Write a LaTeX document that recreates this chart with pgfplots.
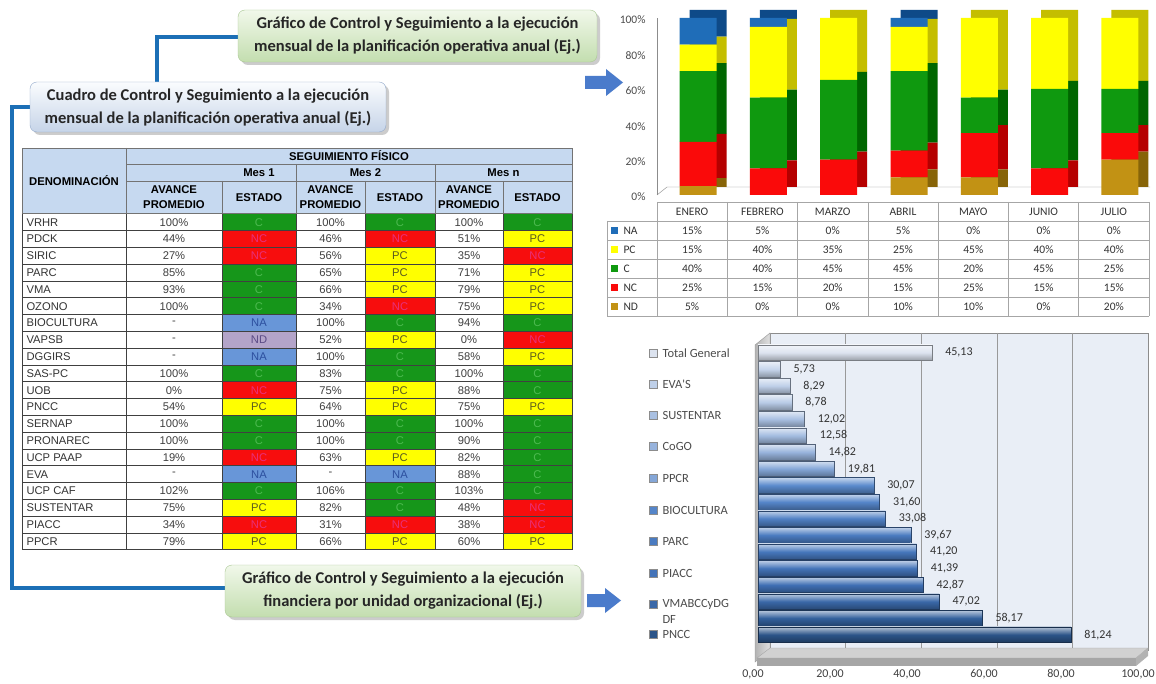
\documentclass[border=0pt]{standalone}
\usepackage{fontspec}
\setmainfont{Liberation Sans}
\newfontfamily\calib{Carlito}
\usepackage{pgfplots}
\pgfplotsset{compat=1.18}

\definecolor{hdr}{HTML}{C6D9F0}
\definecolor{stC}{HTML}{16961A}
\definecolor{stNC}{HTML}{F70D0D}
\definecolor{stPC}{HTML}{FFFF00}
\definecolor{stNA}{HTML}{6896D8}
\definecolor{stND}{HTML}{B4A4C9}
\definecolor{txC}{HTML}{4DBA50}
\definecolor{txNC}{HTML}{E8307A}
\definecolor{txPC}{HTML}{5A5A20}
\definecolor{txNA}{HTML}{2C4F9E}
\definecolor{txND}{HTML}{5B4B85}
\definecolor{conn}{HTML}{1C6FB6}
\definecolor{arrowc}{HTML}{4A7BCB}
\definecolor{grT}{HTML}{F1F8EA}
\definecolor{grB}{HTML}{C3DEAF}
\definecolor{grE}{HTML}{A9C793}
\definecolor{blT}{HTML}{FAFCFE}
\definecolor{blB}{HTML}{C6D4E8}
\definecolor{blE}{HTML}{93AACB}
% top chart
\definecolor{naF}{HTML}{1F6DB8}\definecolor{naD}{HTML}{0E4A88}
\definecolor{pcF}{HTML}{FFFF00}\definecolor{pcD}{HTML}{C4BE00}
\definecolor{cF}{HTML}{0F990F}\definecolor{cD}{HTML}{006600}
\definecolor{ncF}{HTML}{FA0A0A}\definecolor{ncD}{HTML}{B50000}
\definecolor{ndF}{HTML}{C29214}\definecolor{ndD}{HTML}{876408}
% bottom chart
\definecolor{b0}{HTML}{DCE3EF}
\definecolor{b1}{HTML}{C6D5EB}
\definecolor{b2}{HTML}{BFD0E9}
\definecolor{b3}{HTML}{B8CBE6}
\definecolor{b4}{HTML}{A9C0E2}
\definecolor{b5}{HTML}{A3BCE0}
\definecolor{b6}{HTML}{97B3DC}
\definecolor{b7}{HTML}{84A6D7}
\definecolor{b8}{HTML}{5A8ACC}
\definecolor{b9}{HTML}{5585C9}
\definecolor{b10}{HTML}{5080C4}
\definecolor{b11}{HTML}{4A7BC0}
\definecolor{b12}{HTML}{4677BC}
\definecolor{b13}{HTML}{4373B8}
\definecolor{b14}{HTML}{3F6FB3}
\definecolor{b15}{HTML}{3A68A8}
\definecolor{b16}{HTML}{33609C}
\definecolor{b17}{HTML}{2B5488}
\definecolor{wall}{HTML}{E9EEF6}

\newcommand{\callfont}{\calib\bfseries\fontsize{16.5}{23}\selectfont}
\newcommand{\tfont}{\fontsize{11.2}{12}\selectfont}
\newcommand{\hfont}{\bfseries\fontsize{11.3}{15}\selectfont}
\newcommand{\cfont}{\calib\fontsize{11.5}{12}\selectfont}

\pgfplotsset{
  tb/.style={fill=#1, draw=none, bar shift=6pt},
  bb/.style={draw=#1!55!black, line width=0.4pt, bar shift=0pt,
    top color=#1!35!white, bottom color=#1!70!black, middle color=#1},
}

\begin{document}
\begin{tikzpicture}
\useasboundingbox (0,0) rectangle (1156pt,683pt);
\fill[white] (0,0) rectangle (1156pt,683pt);
\begin{scope}[shift={(0pt,683pt)},x=1pt,y=-1pt]
 % connectors
 \draw[conn,line width=4pt] (157,84) -- (157,37) -- (242,37);
 \draw[conn,line width=4pt] (34,107) -- (12,107) -- (12,588) -- (229,588);
 % callout boxes
 \fill[black!20,rounded corners=7pt] (241,13) rectangle (600,65);
 \shade[top color=grT,bottom color=grB,draw=grE,rounded corners=7pt] (238,10) rectangle (597,62);
 \node[font=\callfont,align=center,text=black!85] at (417.5,36) {Gráfico de Control y Seguimiento a la ejecución\\mensual de la planificación operativa anual (Ej.)};
 \fill[black!20,rounded corners=7pt] (33,85) rectangle (389,135);
 \shade[top color=blT,bottom color=blB,draw=blE,rounded corners=7pt] (30,82) rectangle (386,132);
 \node[font=\callfont,align=center,text=black!85] at (208,108) {Cuadro de Control y Seguimiento a la ejecución\\mensual de la planificación operativa anual (Ej.)};
 \fill[black!20,rounded corners=7pt] (228,568) rectangle (584,620);
 \shade[top color=grT,bottom color=grB,draw=grE,rounded corners=7pt] (225,565) rectangle (581,617);
 \node[font=\callfont,align=center,text=black!85] at (403,591) {Gráfico de Control y Seguimiento a la ejecución\\financiera por unidad organizacional (Ej.)};
 % arrows
 \fill[arrowc] (585,76)--(606,76)--(606,69)--(623,82.5)--(606,96)--(606,89)--(585,89)--cycle;
 \fill[arrowc] (587,594)--(605,594)--(605,588)--(621,600.5)--(605,613)--(605,607)--(587,607)--cycle;

 % ---------- left table ----------
 \fill[hdr] (22,148) rectangle (572,213.6);
 \begin{scope}[black!55,line width=0.5pt]
  \draw (22,148) rectangle (572,213.6);
  \draw (126,164) -- (572,164);
  \draw (126,181) -- (572,181);
  \draw (126,148) -- (126,213.6);
  \foreach \xx in {296,435} \draw (\xx,164) -- (\xx,213.6);
  \foreach \xx in {222,365,503} \draw (\xx,181) -- (\xx,213.6);
 \end{scope}
 \node[font=\hfont] at (74,181) {DENOMINACIÓN};
 \node[font=\hfont] at (349,156) {SEGUIMIENTO FÍSICO};
 \node[font=\hfont] at (259,172.5) {Mes 1};
 \node[font=\hfont] at (365.5,172.5) {Mes 2};
 \node[font=\hfont] at (503.5,172.5) {Mes n};
 \foreach \xx in {174,330.5,469} \node[font=\hfont,align=center] at (\xx,197.3) {AVANCE\\PROMEDIO};
 \foreach \xx in {259,400,537.5} \node[font=\hfont] at (\xx,197.3) {ESTADO};
 \foreach \na/\ra/\ea/\rb/\eb/\rc/\ec [count=\i from 0] in {
   VRHR/100\%/C/100\%/C/100\%/C,
   PDCK/44\%/NC/46\%/NC/51\%/PC,
   SIRIC/27\%/NC/56\%/PC/35\%/NC,
   PARC/85\%/C/65\%/PC/71\%/PC,
   VMA/93\%/C/66\%/PC/79\%/PC,
   OZONO/100\%/C/34\%/NC/75\%/PC,
   BIOCULTURA/-/NA/100\%/C/94\%/C,
   VAPSB/-/ND/52\%/PC/0\%/NC,
   DGGIRS/-/NA/100\%/C/58\%/PC,
   SAS-PC/100\%/C/83\%/C/100\%/C,
   UOB/0\%/NC/75\%/PC/88\%/C,
   PNCC/54\%/PC/64\%/PC/75\%/PC,
   SERNAP/100\%/C/100\%/C/100\%/C,
   PRONAREC/100\%/C/100\%/C/90\%/C,
   UCP PAAP/19\%/NC/63\%/PC/82\%/C,
   EVA/-/NA/-/NA/88\%/C,
   UCP CAF/102\%/C/106\%/C/103\%/C,
   SUSTENTAR/75\%/PC/82\%/C/48\%/NC,
   PIACC/34\%/NC/31\%/NC/38\%/NC,
   PPCR/79\%/PC/66\%/PC/60\%/PC}{
   \pgfmathsetmacro\yt{213.6+16.8*\i}
   \pgfmathsetmacro\yb{\yt+16.8}
   \pgfmathsetmacro\yc{\yt+8.6}
   \fill[st\ea] (222,\yt) rectangle (296,\yb);
   \fill[st\eb] (365,\yt) rectangle (435,\yb);
   \fill[st\ec] (503,\yt) rectangle (572,\yb);
   \node[font=\tfont,anchor=west,text=black!80] at (23,\yc) {\na};
   \node[font=\tfont,text=black!75] at (174,\yc) {\ra};
   \node[font=\tfont,text=black!75] at (330.5,\yc) {\rb};
   \node[font=\tfont,text=black!75] at (469,\yc) {\rc};
   \node[font=\tfont,text=tx\ea] at (259,\yc) {\ea};
   \node[font=\tfont,text=tx\eb] at (400,\yc) {\eb};
   \node[font=\tfont,text=tx\ec] at (537.5,\yc) {\ec};
 }
 \begin{scope}[black!75,line width=0.5pt]
  \foreach \k in {1,...,20} \draw (22,{213.6+16.8*\k}) -- (572,{213.6+16.8*\k});
  \foreach \xx in {22,126,222,296,365,435,503,572} \draw (\xx,213.6) -- (\xx,549.6);
 \end{scope}

 % ---------- top chart data table ----------
 \draw[black!45,line width=0.4pt] (657,195) -- (667,187) -- (1150,187);
 \begin{scope}[black!35,line width=0.5pt]
  \draw (657,202) -- (1149,202);
  \foreach \yy in {221,240,259,278,297,316} \draw (607,\yy) -- (1149,\yy);
  \draw (607,221) -- (607,316);
  \foreach \k in {0,...,7} \draw ({657+70.286*\k},202) -- ({657+70.286*\k},316);
 \end{scope}
 \foreach \m [count=\k from 0] in {ENERO,FEBRERO,MARZO,ABRIL,MAYO,JUNIO,JULIO}
   \node[font=\cfont,text=black!80] at ({657+70.286*(\k+0.5)},211.5) {\m};
 \foreach \lab/\cc/\vals [count=\r from 0] in {
   NA/naF/{15,5,0,5,0,0,0},
   PC/pcF/{15,40,35,25,45,40,40},
   C/cF/{40,40,45,45,20,45,25},
   NC/ncF/{25,15,20,15,25,15,15},
   ND/ndF/{5,0,0,10,10,0,20}}{
   \pgfmathsetmacro\yc{230.5+19*\r}
   \fill[\cc] (611,\yc-3.5) rectangle (618,\yc+3.5);
   \node[font=\cfont,anchor=west,text=black!80] at (620,\yc) {\lab};
   \foreach \v [count=\k from 0] in \vals
     \node[font=\cfont,text=black!80] at ({657+70.286*(\k+0.5)},\yc) {\v\%};
 }

 % ---------- bottom chart walls ----------
 \fill[wall] (770,333) rectangle (1148,650);
 \draw[black!45,line width=0.5pt] (770,333) rectangle (1148,650);
 \foreach \xx in {845.6,921.2,996.8,1072.4} \draw[black!40,line width=0.5pt] (\xx,333) -- (\xx,650);
 \shade[left color=black!30,right color=black!12,draw=black!40] (755,345) -- (770,333) -- (770,650) -- (755,662) -- cycle;
 \fill[black!18,draw=black!35] (770,648) -- (1148,648) -- (1136,658) -- (757,658) -- cycle;
 \fill[black!35] (757,658) rectangle (1136,666);
 \fill[black!30] (1136,658) -- (1148,648) -- (1148,656) -- (1136,666) -- cycle;
 % legend of bottom chart
 \foreach \yy/\lab/\cc in {353/Total General/b0, 384/EVA'S/b2, 415/SUSTENTAR/b4,
   446/CoGO/b6, 478/PPCR/b7, 510/BIOCULTURA/b9, 541/PARC/b11, 573/PIACC/b13,
   604/VMABCCyDG/b15, 634/PNCC/b17}{
   \filldraw[fill=\cc,draw=black!45,line width=0.4pt] (649,\yy-4) rectangle (657,\yy+4);
   \node[font=\calib\fontsize{12.5}{13}\selectfont,anchor=west,text=black!70] at (659,\yy) {\lab};
 }
 \node[font=\calib\fontsize{12.5}{13}\selectfont,anchor=west,text=black!70] at (659,619) {DF};
\end{scope}

% ---------- top chart (depth copy) ----------
\begin{axis}[at={(667pt,496pt)}, anchor=south west, scale only axis,
  width=492pt, height=177pt, xmin=-0.5, xmax=6.5, ymin=0, ymax=100,
  ybar stacked, bar width=37pt, hide axis]
\addplot[tb=ndD] coordinates {(0,5)(1,0)(2,0)(3,10)(4,10)(5,0)(6,20)};
\addplot[tb=ncD] coordinates {(0,25)(1,15)(2,20)(3,15)(4,25)(5,15)(6,15)};
\addplot[tb=cD] coordinates {(0,40)(1,40)(2,45)(3,45)(4,20)(5,45)(6,25)};
\addplot[tb=pcD] coordinates {(0,15)(1,40)(2,35)(3,25)(4,45)(5,40)(6,40)};
\addplot[tb=naD] coordinates {(0,15)(1,5)(2,0)(3,5)(4,0)(5,0)(6,0)};
\end{axis}
% ---------- top chart (front) ----------
\begin{axis}[at={(657pt,488pt)}, anchor=south west, scale only axis,
  width=492pt, height=177pt, xmin=-0.5, xmax=6.5, ymin=0, ymax=100,
  ybar stacked, bar width=37pt,
  axis x line=none, axis y line*=left, axis line style={draw=black!45},
  xtick=\empty, ytick={0,20,40,60,80,100},
  yticklabels={0\%,20\%,40\%,60\%,80\%,100\%},
  major tick length=0pt,
  yticklabel style={font=\calib\fontsize{11.5}{12}\selectfont, text=black!70, xshift=-8pt, yshift=-2pt}]
\addplot[tb=ndF] coordinates {(0,5)(1,0)(2,0)(3,10)(4,10)(5,0)(6,20)};
\addplot[tb=ncF] coordinates {(0,25)(1,15)(2,20)(3,15)(4,25)(5,15)(6,15)};
\addplot[tb=cF] coordinates {(0,40)(1,40)(2,45)(3,45)(4,20)(5,45)(6,25)};
\addplot[tb=pcF] coordinates {(0,15)(1,40)(2,35)(3,25)(4,45)(5,40)(6,40)};
\addplot[tb=naF] coordinates {(0,15)(1,5)(2,0)(3,5)(4,0)(5,0)(6,0)};
\end{axis}

% ---------- bottom chart ----------
\begin{axis}[at={(758pt,35pt)}, anchor=south west, scale only axis,
  width=385pt, height=312pt, xmin=0, xmax=100, ymin=-1, ymax=17.8, y dir=reverse,
  xbar, bar width=15.5pt,
  axis line style={draw=none}, ytick=\empty, xtick={0,20,40,60,80,100},
  xticklabels={{0,00},{20,00},{40,00},{60,00},{80,00},{100,00}},
  major tick length=0pt,
  xticklabel style={font=\calib\fontsize{12}{13}\selectfont, text=black!75, yshift=-18pt, xshift=-5pt},
  point meta=x,
  nodes near coords={\pgfmathprintnumber[fixed,fixed zerofill,precision=2,use comma,assume math mode=true]{\pgfplotspointmeta}},
  every node near coord/.append style={font=\calib\fontsize{12}{13}\selectfont, text=black!80, anchor=west, xshift=10pt},
  clip=false]
\addplot[bb=b0] coordinates {(45.13,0)};
\addplot[bb=b1] coordinates {(5.73,1)};
\addplot[bb=b2] coordinates {(8.29,2)};
\addplot[bb=b3] coordinates {(8.78,3)};
\addplot[bb=b4] coordinates {(12.02,4)};
\addplot[bb=b5] coordinates {(12.58,5)};
\addplot[bb=b6] coordinates {(14.82,6)};
\addplot[bb=b7] coordinates {(19.81,7)};
\addplot[bb=b8] coordinates {(30.07,8)};
\addplot[bb=b9] coordinates {(31.60,9)};
\addplot[bb=b10] coordinates {(33.08,10)};
\addplot[bb=b11] coordinates {(39.67,11)};
\addplot[bb=b12] coordinates {(41.20,12)};
\addplot[bb=b13] coordinates {(41.39,13)};
\addplot[bb=b14] coordinates {(42.87,14)};
\addplot[bb=b15] coordinates {(47.02,15)};
\addplot[bb=b16] coordinates {(58.17,16)};
\addplot[bb=b17] coordinates {(81.24,17)};
\end{axis}
\end{tikzpicture}
\end{document}
